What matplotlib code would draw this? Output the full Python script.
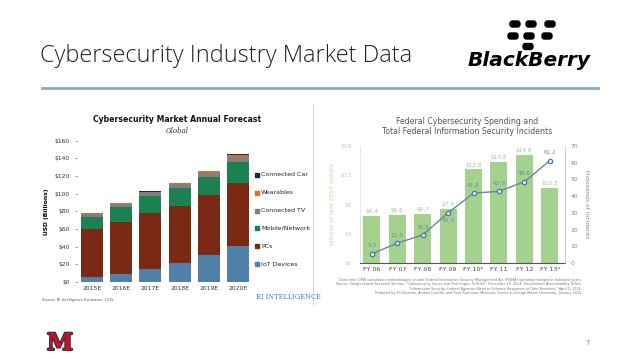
import matplotlib
matplotlib.use("Agg")
import matplotlib.pyplot as plt
import matplotlib.patheffects as pe
from matplotlib.patches import FancyBboxPatch
import numpy as np

# left chart: global cybersecurity market forecast (USD billions, stacked)
years = ["2015E", "2016E", "2017E", "2018E", "2019E", "2020E"]
iot = [5.5, 8.7, 14.7, 21.8, 30.1, 40.7]
pcs = [54.5, 59.8, 63.6, 64.8, 68.5, 71.5]
mobile = [14.0, 16.2, 18.8, 20.0, 20.0, 24.1]
tv = [3.0, 3.8, 4.4, 3.9, 4.9, 4.7]
wearables = [0.8, 1.0, 0.8, 1.2, 1.8, 3.0]
car = [0.3, 0.5, 0.6, 0.9, 0.8, 1.2]
segments = ["IoT Devices", "PCs", "Mobile/Network", "Connected TV", "Wearables", "Connected Car"]
seg_colors = ["#4f81aa", "#7a2a14", "#1c8050", "#808080", "#d0712f", "#1f2a3a"]

# right chart: federal spending and incidents
fiscal = ["FY 06", "FY 07", "FY 08", "FY 09", "FY 10*", "FY 11", "FY 12", "FY 13*"]
fisma = [6.4, 6.6, 6.7, 7.4, 12.8, 13.8, 14.8, 10.3]
incidents = [5.5, 11.9, 16.8, 30.0, 41.8, 42.9, 48.6, 61.2]

W, H = 638, 359
fig = plt.figure(figsize=(W / 100, H / 100), dpi=100)


def px_axes(x0, y0, x1, y1):
    return fig.add_axes([x0 / W, 1 - y1 / H, (x1 - x0) / W, (y1 - y0) / H])


bg = fig.add_axes([0, 0, 1, 1])
bg.set_xlim(0, W)
bg.set_ylim(H, 0)
bg.axis("off")

# slide header
bg.text(40, 56, "Cybersecurity Industry Market Data", fontsize=16.9, family="Open Sans",
        fontweight="light", color="#222222", va="center", ha="left")
bg.plot([42, 598], [88, 88], color="#86a9cb", lw=2)

# BlackBerry logo
dots = [(515, 24), (531, 24), (550, 24), (513, 36), (529, 36), (547, 36), (528, 46.5)]
for cx, cy in dots:
    bg.add_patch(FancyBboxPatch((cx - 5, cy - 3), 10, 6, boxstyle="round,pad=0,rounding_size=2.5",
                                color="black", mutation_aspect=1))
bg.text(529, 61, "BlackBerry", fontsize=14.5, fontweight="bold", fontstyle="italic",
        family="DejaVu Sans", color="black", ha="center", va="center")

# Miami M logo and page number
bg.text(60, 343, "M", fontsize=17, fontweight="bold", family="DejaVu Serif", color="#c3142d",
        ha="center", va="center",
        path_effects=[pe.withStroke(linewidth=1.5, foreground="#333333")])
bg.text(588, 343, "7", fontsize=5, color="#888888", ha="center", va="center")

# ---------------- left chart ----------------
bg.plot([313, 313], [104, 304], color="#cccccc", lw=0.6)
bg.text(177, 120, "Cybersecurity Market Annual Forecast", fontsize=5.6, fontweight="bold",
        ha="center", va="center", color="#111111")
bg.text(177, 131, "Global", fontsize=5, fontstyle="italic", family="DejaVu Serif",
        ha="center", va="center", color="#333333")

ax1 = px_axes(77.4, 140.7, 252.6, 282)
x = np.arange(len(years))
bottom = np.zeros(len(years))
for vals, name, col in zip([iot, pcs, mobile, tv, wearables, car], segments, seg_colors):
    ax1.bar(x, vals, 0.75, bottom=bottom, color=col, label=name)
    bottom += np.array(vals)
ax1.set_xlim(-0.5, 5.5)
ax1.set_ylim(0, 160)
ax1.set_yticks(range(0, 161, 20))
ax1.set_yticklabels([f"${v}" for v in range(0, 161, 20)])
ax1.set_xticks(x)
ax1.set_xticklabels(years)
ax1.tick_params(axis="both", labelsize=4.3, colors="#333333", length=1.5, width=0.4, pad=4)
ax1.tick_params(axis="x", length=0, pad=3)
for s in ax1.spines.values():
    s.set_visible(False)
ax1.set_ylabel("USD (Billions)", fontsize=4.3, fontweight="bold", labelpad=4)

# legend (top to bottom in reverse stacking order)
for i, (name, col) in enumerate(zip(segments[::-1], seg_colors[::-1])):
    yy = 175 + i * 17.8
    bg.add_patch(plt.Rectangle((255, yy - 2), 4, 4, color=col))
    bg.text(261, yy, name, fontsize=4.5, va="center", ha="left", color="#222222")

bg.text(288, 297, "BI INTELLIGENCE", fontsize=4.8, family="DejaVu Serif", color="#4a7fb5",
        ha="center", va="center")
bg.text(42, 300, "Source: BI Intelligence Estimates, 2015", fontsize=2.6, color="#555555",
        ha="left", va="center")

# ---------------- right chart ----------------
bg.text(467, 122, "Federal Cybersecurity Spending and", fontsize=5.6, color="#555555",
        ha="center", va="center")
bg.text(467, 132, "Total Federal Information Security Incidents", fontsize=5.6, color="#555555",
        ha="center", va="center")

green = "#a5d18e"
ax2 = px_axes(360, 146, 565, 263)
xf = np.arange(len(fiscal))
ax2.bar(xf, fisma, 0.67, color=green, label="FISMA spending", zorder=1)
ax2.set_xlim(-0.47, 7.6)
ax2.set_ylim(0, 16)
ax2.set_yticks([0, 4, 8, 12, 16])
ax2.set_yticklabels(["$0", "$4", "$8", "$12", "$16"])
ax2.set_xticks(xf)
ax2.set_xticklabels(fiscal)
ax2.tick_params(axis="y", labelsize=4.3, colors="#b5d8a5", length=0, pad=6)
ax2.tick_params(axis="x", labelsize=4.5, colors="#444444", length=0, pad=3)
for v, xx in zip(fisma, xf):
    ax2.text(xx, v + 0.25, f"${v}", fontsize=4.2, color="#9ccc86", ha="center", va="bottom")
ax2.spines["top"].set_visible(False)
ax2.spines["left"].set_color("#dddddd")
ax2.spines["left"].set_linewidth(0.5)
ax2.spines["right"].set_visible(False)
ax2.spines["bottom"].set_color("#555555")
ax2.spines["bottom"].set_linewidth(0.8)
ax2.set_ylabel("billions of real 2013 dollars", fontsize=4.3, color="#b5d8a5", labelpad=4)

ax3 = ax2.twinx()
ax3.plot(xf, incidents, color="#5f8a9c", lw=1.0, marker="o", ms=3.2, mfc="#dfe9f2",
         mec="#3f6fa3", mew=0.8, label="Information security incidents", zorder=3)
ax3.set_ylim(0, 70)
ax3.set_yticks(range(0, 71, 10))
ax3.tick_params(axis="y", labelsize=4.3, colors="#888888", length=0, pad=4)
for s in ["top", "left", "bottom"]:
    ax3.spines[s].set_visible(False)
ax3.spines["right"].set_color("#bbbbbb")
ax3.spines["right"].set_linewidth(0.5)
ax3.set_ylabel("thousands of incidents", fontsize=4.3, color="#888888", rotation=270, labelpad=8)
for xx, v in zip(xf, incidents):
    if v == 30.0:
        ax3.text(xx, v - 3.2, f"{v:.1f}", fontsize=4.2, color="#6d8f9c", ha="center", va="top")
    else:
        ax3.text(xx, v + 3.2, f"{v:.1f}", fontsize=4.2, color="#6d8f9c", ha="center", va="bottom")

# legend drawn on slide
bg.add_patch(plt.Rectangle((365, 149), 6, 3, color=green))
bg.text(372, 150.5, "FISMA spending", fontsize=4.3, color="#888888", va="center")
bg.plot([364, 372], [161, 161], color="#5f8a9c", lw=0.8)
bg.plot([368], [161], marker="o", ms=3, mfc="#dfe9f2", mec="#3f6fa3", mew=0.7)
bg.text(373, 161, "Information security incidents", fontsize=4.3, color="#888888", va="center")

notes = [
    "Data note: OMB calculation methodologies of total Federal Information Security Management Act (FISMA) spending changed in indicated years.",
    "Source: Congressional Research Service, \"Cybersecurity Issues and Challenges: In Brief,\" December 16, 2014; Government Accountability Office,",
    "\"Information Security: Federal Agencies Need to Enhance Responses to Data Breaches,\" April 2, 2014.",
    "Produced by Eli Dourado, Andrea Castillo, and Rizzi Rachman, Mercatus Center at George Mason University, January 2015.",
]
for i, line in enumerate(notes):
    bg.text(582, 280 + i * 4.4, line, fontsize=2.4, color="#777777", ha="right", va="center")

fig.savefig("out.png", dpi=100, facecolor="white")
